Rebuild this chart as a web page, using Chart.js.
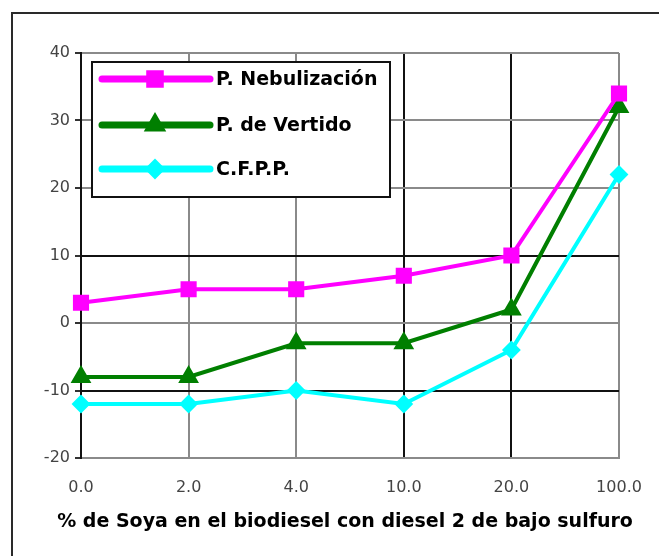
<!DOCTYPE html>
<html><head><meta charset="utf-8">
<script src="https://cdn.jsdelivr.net/npm/chart.js@4"></script>
<style>html,body{margin:0;padding:0;background:#fff}#wrap{width:659px;height:556px;position:relative}</style>
</head><body><div id="wrap"><canvas id="c" width="659" height="556"></canvas></div>
<script>
const categories = ['0.0', '2.0', '4.0', '10.0', '20.0', '100.0'];
const nebulizacion = [3, 5, 5, 7, 10, 34];
const vertido = [-8, -8, -3, -3, 2, 32];
const cfpp = [-12, -12, -10, -12, -4, 22];
const seriesNames = ['P. Nebulización', 'P. de Vertido', 'C.F.P.P.'];
const yTicks = [-20, -10, 0, 10, 20, 30, 40];
const xTitle = '% de Soya en el biodiesel con diesel 2 de bajo sulfuro';

const colors = ['#FF00FF', '#007F00', '#00FFFF'];
const styles = [
  { pointStyle: 'rect', radius: 10 },
  { pointStyle: 'triangle', radius: 10 },
  { pointStyle: 'rectRot', radius: 8 }
];
const darkGrid = '#111';
const lightGrid = '#8a8a8a';
const FONT = '"DejaVu Sans", Verdana, sans-serif';

function fallbackPoint(ctx, o, x, y) {
  ctx.beginPath();
  const r = o.radius;
  if (o.pointStyle === 'rect') { const s = r * Math.SQRT1_2; ctx.rect(x - s, y - s, 2 * s, 2 * s); }
  else if (o.pointStyle === 'triangle') { ctx.moveTo(x, y - r); ctx.lineTo(x + r * 0.866, y + r / 2); ctx.lineTo(x - r * 0.866, y + r / 2); ctx.closePath(); }
  else { ctx.moveTo(x - r, y); ctx.lineTo(x, y - r); ctx.lineTo(x + r, y); ctx.lineTo(x, y + r); ctx.closePath(); }
  ctx.fill(); if (o.borderWidth) ctx.stroke();
}

const framePlugin = {
  id: 'frame',
  beforeDraw(chart) {
    const ctx = chart.ctx;
    ctx.save();
    ctx.fillStyle = '#fff';
    ctx.fillRect(0, 0, chart.width, chart.height);
    ctx.strokeStyle = '#2a2a2a';
    ctx.lineWidth = 2;
    ctx.beginPath();
    ctx.moveTo(11, 13); ctx.lineTo(chart.width, 13);
    ctx.moveTo(12, 13); ctx.lineTo(12, chart.height);
    ctx.stroke();
    ctx.restore();
  },
  afterDraw(chart) {
    const ctx = chart.ctx;
    ctx.save();
    ctx.fillStyle = '#000';
    ctx.font = 'bold 19px ' + FONT;
    ctx.textAlign = 'center';
    ctx.textBaseline = 'middle';
    ctx.fillText(xTitle, 345, 522);
    ctx.restore();
  }
};

const legendPlugin = {
  id: 'boxLegend',
  afterDatasetsDraw(chart) {
    const ctx = chart.ctx;
    ctx.save();
    ctx.fillStyle = '#fff';
    ctx.fillRect(92, 62, 298, 135);
    ctx.strokeStyle = '#111';
    ctx.lineWidth = 2;
    ctx.strokeRect(92, 62, 298, 135);
    const rows = [79, 125, 169];
    chart.data.datasets.forEach((ds, i) => {
      const y = rows[i];
      ctx.strokeStyle = ds.borderColor;
      ctx.lineWidth = 7;
      ctx.lineCap = 'round';
      ctx.beginPath(); ctx.moveTo(102, y); ctx.lineTo(210, y); ctx.stroke();
      ctx.fillStyle = ds.pointBackgroundColor;
      ctx.strokeStyle = ds.pointBorderColor;
      ctx.lineWidth = 2;
      const o = { pointStyle: ds.pointStyle, radius: ds.pointRadius + 1, rotation: 0, borderWidth: 2 };
      if (Chart.helpers && Chart.helpers.drawPoint) Chart.helpers.drawPoint(ctx, o, 155, y);
      else fallbackPoint(ctx, o, 155, y);
      ctx.fillStyle = '#000';
      ctx.font = 'bold 19px ' + FONT;
      ctx.textBaseline = 'middle';
      ctx.textAlign = 'left';
      ctx.fillText(ds.label, 216, y + 1);
    });
    ctx.restore();
  }
};

const seriesData = [nebulizacion, vertido, cfpp];
const datasets = seriesData.map((d, i) => ({
  label: seriesNames[i],
  data: d,
  borderColor: colors[i],
  backgroundColor: colors[i],
  pointBackgroundColor: colors[i],
  pointBorderColor: colors[i],
  pointBorderWidth: 2,
  pointStyle: styles[i].pointStyle,
  pointRadius: styles[i].radius,
  pointHoverRadius: styles[i].radius,
  borderWidth: 4,
  tension: 0,
  fill: false
}));

new Chart(document.getElementById('c'), {
  type: 'line',
  data: { labels: categories, datasets: datasets },
  plugins: [framePlugin, legendPlugin],
  options: {
    responsive: false,
    animation: false,
    devicePixelRatio: 1,
    layout: { padding: { left: 0, right: 40, top: 53, bottom: 0 } },
    plugins: { legend: { display: false }, tooltip: { enabled: false } },
    scales: {
      x: {
        type: 'category',
        offset: false,
        afterFit: s => { s.height = 98; s.paddingLeft = 0; s.paddingRight = 0; },
        grid: {
          drawTicks: false,
          lineWidth: 2,
          color: c => (c.index === 0 || c.index === 3 || c.index === 4) ? darkGrid : lightGrid
        },
        border: { color: lightGrid, width: 2 },
        ticks: {
          color: '#444',
          padding: 20,
          maxRotation: 0,
          font: { family: FONT, size: 16 }
        },
        title: { display: false }
      },
      y: {
        min: -20,
        max: 40,
        afterFit: s => { s.width = 81; },
        afterBuildTicks: s => { s.ticks = yTicks.map(v => ({ value: v })); },
        grid: {
          lineWidth: 2,
          tickLength: 6,
          tickColor: '#333',
          color: c => (c.tick && (c.tick.value === 10 || c.tick.value === -10)) ? darkGrid : lightGrid
        },
        border: { color: darkGrid, width: 2 },
        ticks: {
          color: '#444',
          padding: 5,
          font: { family: FONT, size: 16 }
        }
      }
    }
  }
});
</script>
</body></html>
